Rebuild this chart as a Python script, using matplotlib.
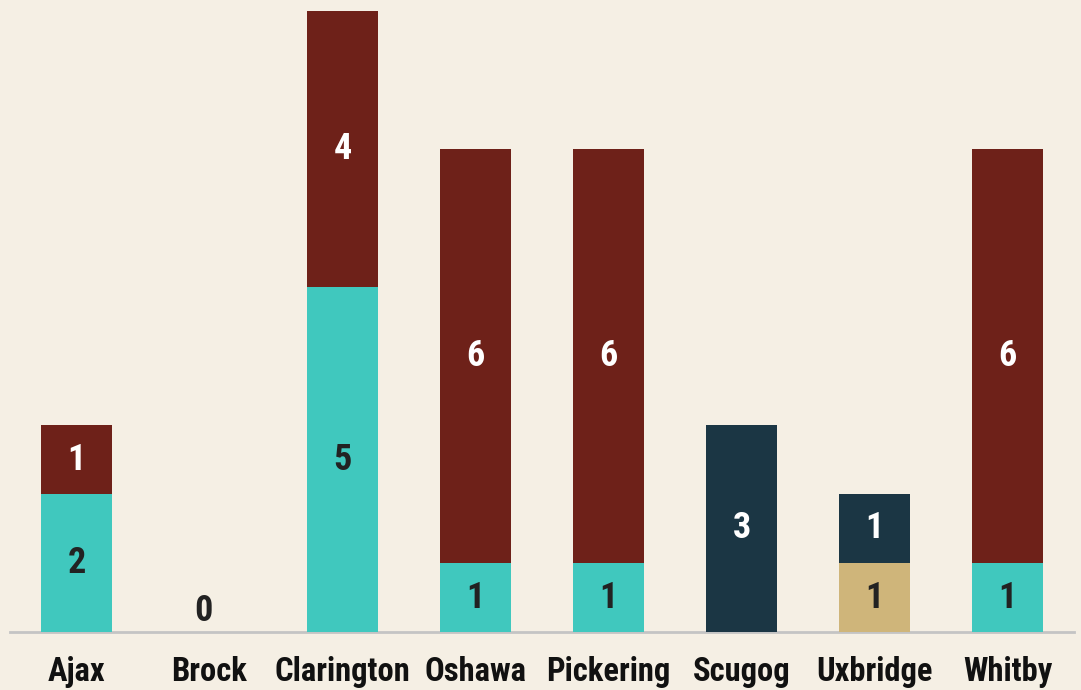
import matplotlib
matplotlib.use("Agg")
import matplotlib.pyplot as plt
from matplotlib import font_manager
import numpy as np

categories = ["Ajax", "Brock", "Clarington", "Oshawa", "Pickering", "Scugog", "Uxbridge", "Whitby"]
teal_vals = [2, 0, 5, 1, 1, 0, 0, 1]
tan_vals = [0, 0, 0, 0, 0, 0, 1, 0]
navy_vals = [0, 0, 0, 0, 0, 3, 1, 0]
red_vals = [1, 0, 4, 6, 6, 0, 0, 6]

series = [
    (teal_vals, "#40C8BE", "#222222"),
    (tan_vals, "#CFB57A", "#222222"),
    (navy_vals, "#1B3644", "white"),
    (red_vals, "#6E2119", "white"),
]

names = {f.name for f in font_manager.fontManager.ttflist}
fam = [f for f in ["Roboto Condensed", "Roboto", "DejaVu Sans"] if f in names]
plt.rcParams["font.family"] = fam

bg = "#F5EFE4"
fig = plt.figure(figsize=(10.81, 6.90), dpi=100, facecolor=bg)
ax = fig.add_axes([10 / 1081, 58 / 690, 1064 / 1081, 632 / 690])
ax.set_facecolor(bg)

x = np.arange(len(categories))
bottom = np.zeros(len(categories))
for vals, color, tcolor in series:
    v = np.array(vals, dtype=float)
    ax.bar(x, v, bottom=bottom, width=0.54, color=color, linewidth=0, zorder=2)
    for i in range(len(x)):
        if v[i] > 0:
            ax.text(x[i], bottom[i] + v[i] / 2, f"{int(v[i])}", ha="center", va="center",
                    color=tcolor, fontsize=26, fontweight="bold", zorder=3)
    bottom += v

totals = bottom
for i in range(len(x)):
    if totals[i] == 0:
        ax.annotate("0", (x[i], 0), xytext=(-6, 21), textcoords="offset pixels",
                    ha="center", va="center", color="#222222", fontsize=26, fontweight="bold")

ax.set_xlim(-0.5, len(categories) - 0.5)
ax.set_ylim(0, 632 / 69)
ax.set_yticks([])
ax.set_xticks(x)
ax.set_xticklabels(categories, fontsize=23.5, fontweight="bold", color="#111111")
ax.tick_params(axis="x", length=0, pad=17)
for s in ["top", "right", "left"]:
    ax.spines[s].set_visible(False)
ax.spines["bottom"].set_color("#C4C4C4")
ax.spines["bottom"].set_linewidth(2)
ax.spines["bottom"].set_zorder(1)

fig.savefig("out.png", dpi=100, facecolor=bg)
